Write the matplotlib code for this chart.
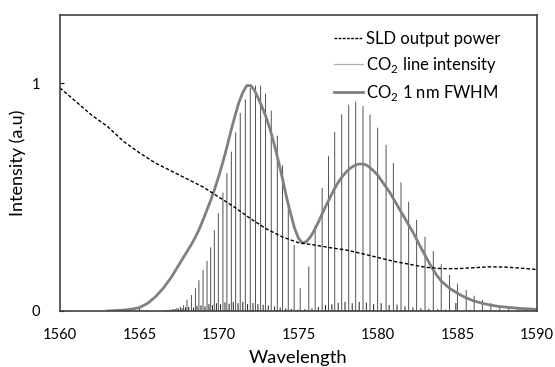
import matplotlib
matplotlib.use("Agg")
import matplotlib.pyplot as plt
from matplotlib.lines import Line2D

plt.rcParams['font.family'] = ['Lato', 'DejaVu Sans']
plt.rcParams['mathtext.fontset'] = 'custom'
plt.rcParams['mathtext.rm'] = 'Lato'

# SLD output power (normalised)
sld_wl = [1560, 1561, 1562, 1563, 1564, 1565, 1566, 1567, 1568, 1569, 1570,
          1571, 1572, 1573, 1574, 1575, 1576, 1577, 1578, 1579, 1580,
          1581, 1582, 1583, 1584, 1585, 1586, 1587, 1588, 1589, 1590]
sld_pw = [0.98, 0.92, 0.86, 0.81, 0.745, 0.695, 0.65, 0.615, 0.58, 0.545, 0.50,
          0.455, 0.405, 0.36, 0.325, 0.30, 0.29, 0.278, 0.268, 0.252, 0.235,
          0.218, 0.205, 0.192, 0.186, 0.186, 0.19, 0.194, 0.193, 0.188, 0.182]

# CO2 absorption lines, main band
line_wl = [1566.9, 1567.13, 1567.35, 1567.57, 1567.78, 1567.99, 1568.27, 1568.52,
           1568.74, 1569.0, 1569.25, 1569.48, 1569.71, 1569.96, 1570.25, 1570.5,
           1570.78, 1571.05, 1571.34, 1571.66, 1571.97, 1572.3, 1572.62, 1572.93,
           1573.29, 1573.67, 1574.0, 1574.36, 1574.73, 1575.11,
           1575.65, 1576.05, 1576.49, 1576.89, 1577.28, 1577.72, 1578.16, 1578.6,
           1579.06, 1579.5, 1579.98, 1580.51, 1580.97, 1581.45, 1581.93, 1582.43,
           1582.96, 1583.48, 1583.98, 1584.5, 1585.0, 1585.55, 1586.05, 1586.57,
           1587.1, 1587.66, 1588.22, 1588.8, 1589.38, 1589.95]
line_int = [0.006, 0.009, 0.013, 0.019, 0.026, 0.05, 0.07, 0.10,
            0.135, 0.18, 0.22, 0.28, 0.355, 0.43, 0.52, 0.605,
            0.70, 0.785, 0.87, 0.93, 0.98, 0.99, 0.99, 0.955,
            0.88, 0.77, 0.64, 0.47, 0.29, 0.10,
            0.195, 0.377, 0.54, 0.68, 0.786, 0.864, 0.906, 0.92,
            0.90, 0.863, 0.805, 0.73, 0.65, 0.565, 0.48, 0.40,
            0.326, 0.263, 0.205, 0.158, 0.12, 0.092, 0.067, 0.048,
            0.034, 0.023, 0.016, 0.011, 0.008, 0.005]

# weak lines (hot band / isotopes)
weak_wl = [1565.0, 1566.6, 1566.75, 1567.05, 1567.25, 1567.45, 1567.68, 1567.9,
           1568.1, 1568.4, 1568.62, 1568.87, 1569.12, 1569.37, 1569.6, 1569.84,
           1570.1, 1570.38, 1570.64, 1570.9, 1571.2, 1571.5, 1571.8, 1572.14,
           1572.45, 1572.78, 1573.1, 1573.5, 1573.85, 1574.2, 1574.55, 1574.95,
           1575.4, 1575.85, 1576.25, 1576.7, 1577.1, 1577.5, 1577.93, 1578.38,
           1578.82, 1579.27, 1579.73, 1580.2, 1580.7, 1581.2, 1581.7, 1582.2,
           1582.7, 1583.2, 1583.75, 1584.25, 1584.9, 1585.8, 1586.8]
weak_int = [0.022, 0.003, 0.004, 0.006, 0.008, 0.01, 0.012, 0.016,
            0.018, 0.015, 0.022, 0.025, 0.02, 0.03, 0.026, 0.034,
            0.03, 0.038, 0.032, 0.04, 0.034, 0.04, 0.03, 0.035,
            0.03, 0.027, 0.024, 0.02, 0.015, 0.012, 0.009, 0.006,
            0.008, 0.012, 0.018, 0.026, 0.03, 0.036, 0.04, 0.034,
            0.04, 0.036, 0.03, 0.034, 0.026, 0.028, 0.02, 0.016,
            0.012, 0.01, 0.008, 0.006, 0.035, 0.005, 0.004]

# CO2 spectrum convolved with 1 nm FWHM
fw_wl = [1563.0, 1564.0, 1564.5, 1565.0, 1565.5, 1566.0, 1566.5, 1567.0, 1567.5,
         1568.0, 1568.25, 1568.5, 1568.75, 1569.0, 1569.25, 1569.5, 1569.75,
         1570.0, 1570.25, 1570.5, 1570.75, 1571.0, 1571.25, 1571.5, 1571.75,
         1572.0, 1572.25, 1572.5, 1572.75, 1573.0, 1573.25, 1573.5, 1573.75,
         1574.0, 1574.25, 1574.5, 1574.75, 1575.0, 1575.25, 1575.5, 1575.75,
         1576.0, 1576.25, 1576.5, 1576.75, 1577.0, 1577.25, 1577.5, 1577.75,
         1578.0, 1578.25, 1578.5, 1578.75, 1579.0, 1579.25, 1579.5, 1579.75,
         1580.0, 1580.25, 1580.5, 1580.75, 1581.0, 1581.25, 1581.5, 1581.75,
         1582.0, 1582.25, 1582.5, 1582.75, 1583.0, 1583.25, 1583.5, 1583.75,
         1584.0, 1584.5, 1585.0, 1585.5, 1586.0, 1586.5, 1587.0, 1587.5,
         1588.0, 1589.0, 1590.0]
fw_int = [0.0, 0.004, 0.008, 0.015, 0.033, 0.062, 0.10, 0.148, 0.205,
          0.262, 0.29, 0.322, 0.358, 0.40, 0.445, 0.49, 0.54,
          0.595, 0.655, 0.72, 0.79, 0.855, 0.915, 0.96, 0.99,
          0.99, 0.968, 0.93, 0.89, 0.845, 0.79, 0.725, 0.655,
          0.58, 0.50, 0.43, 0.365, 0.32, 0.298, 0.305, 0.325,
          0.355, 0.39, 0.428, 0.465, 0.50, 0.535, 0.565, 0.59,
          0.61, 0.627, 0.638, 0.645, 0.646, 0.642, 0.63, 0.614,
          0.595, 0.57, 0.545, 0.52, 0.49, 0.46, 0.43, 0.40,
          0.37, 0.34, 0.305, 0.272, 0.24, 0.208, 0.178, 0.152,
          0.13, 0.10, 0.078, 0.059, 0.045, 0.035, 0.027, 0.021,
          0.017, 0.011, 0.007]

fig = plt.figure(figsize=(5.55, 3.67), dpi=100)
ax = fig.add_axes([0.108, 0.1526, 0.8595, 0.8064])

vl = ax.vlines(line_wl, 0, line_int, colors='#505050', linewidth=0.7)
vl.set_snap(False)
vw = ax.vlines(weak_wl, 0, weak_int, colors='#1a1a1a', linewidth=0.7)
vw.set_snap(False)
ax.plot(fw_wl, fw_int, color='#808080', linewidth=2.0, solid_joinstyle='round')
ax.plot(sld_wl, sld_pw, color='black', linewidth=1.0, linestyle=(0, (2.5, 1.5)))

ax.set_xlim(1560, 1590)
ax.set_ylim(0, 1.3)
ax.set_xticks([1560, 1565, 1570, 1575, 1580, 1585, 1590])
ax.set_yticks([0, 1])
ax.tick_params(axis='x', length=0, pad=12, labelsize=10.5)
ax.tick_params(axis='y', length=3, direction='in', pad=14, labelsize=10.5)
for s in ax.spines.values():
    s.set_color('#404040')
    s.set_linewidth(1.2)
ax.set_xlabel('Wavelength', fontsize=13.3, labelpad=6)
ax.set_ylabel('Intensity (a.u)', fontsize=13, labelpad=4)

handles = [Line2D([], [], color='black', linewidth=1.0, linestyle=(0, (2, 1))),
           Line2D([], [], color='#b0b0b0', linewidth=0.9),
           Line2D([], [], color='#808080', linewidth=2.0)]
labels = ['SLD output power', r'CO$_\mathregular{2}$ line intensity',
          r'CO$_\mathregular{2}$ 1 nm FWHM']
ax.legend(handles, labels, loc='upper left', bbox_to_anchor=(0.574, 0.945),
          frameon=False, fontsize=12, handlelength=1.75, handletextpad=0.2,
          labelspacing=0.47, borderpad=0, borderaxespad=0)

fig.savefig('out.png', dpi=100)
